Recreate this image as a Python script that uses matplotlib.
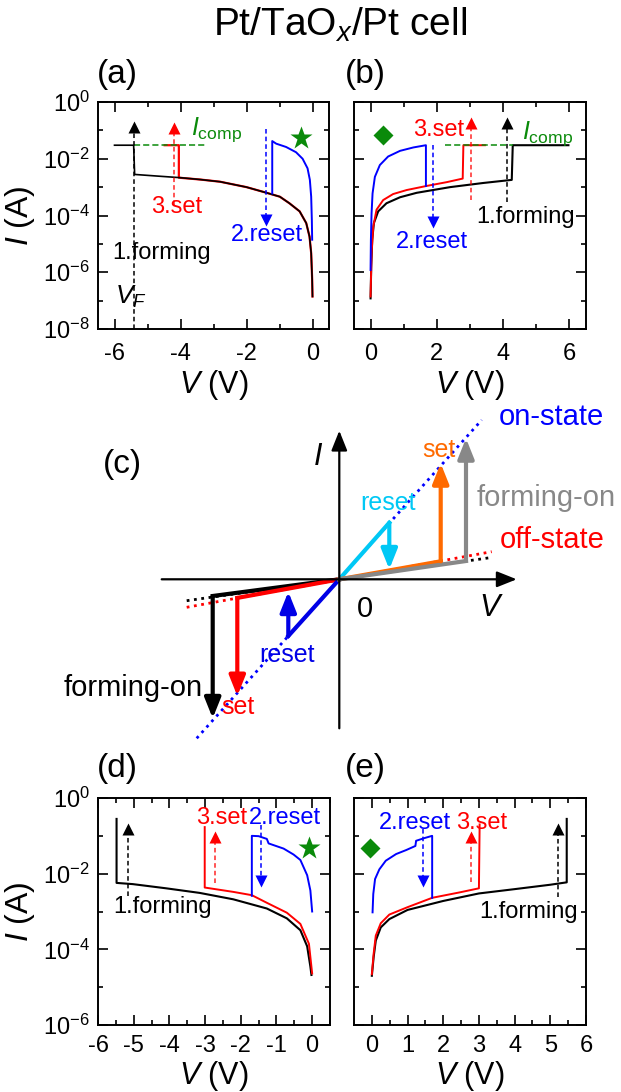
import numpy as np
import matplotlib
matplotlib.use('Agg')
import matplotlib.pyplot as plt

plt.rcParams['font.family'] = ['Liberation Sans', 'DejaVu Sans']
plt.rcParams['mathtext.fontset'] = 'custom'
plt.rcParams['mathtext.rm'] = 'Liberation Sans'
plt.rcParams['mathtext.it'] = 'Liberation Sans:italic'
plt.rcParams['mathtext.sf'] = 'Liberation Sans'
plt.rcParams['axes.unicode_minus'] = False

W, H = 621, 1092
GREEN = '#0a8a0a'

# ---- (a) negative forming / reset / set, log scale ----
a_form_v = [0.0, -0.01, -0.04, -0.09, -0.19, -0.39, -0.70, -0.99, -1.39, -2.0, -2.8, -3.4, -4.0, -4.7, -5.39, -5.42, -6.0]
a_form_i = [1.4e-7, 5.5e-7, 4.7e-6, 1.8e-5, 5.4e-5, 1.4e-4, 2.7e-4, 4.6e-4, 6.3e-4, 1.0e-3, 1.55e-3, 1.85e-3, 2.15e-3, 2.45e-3, 2.8e-3, 3e-2, 3e-2]
a_set_v = [0.0, -0.01, -0.04, -0.09, -0.19, -0.39, -0.70, -0.99, -1.39, -2.0, -2.8, -3.4, -4.05, -4.05, -4.48]
a_set_i = [1.4e-7, 5.5e-7, 4.7e-6, 1.8e-5, 5.4e-5, 1.4e-4, 2.7e-4, 4.6e-4, 6.3e-4, 1.0e-3, 1.55e-3, 1.85e-3, 2.15e-3, 3e-2, 3e-2]
a_reset_v = [-0.01, -0.02, -0.04, -0.08, -0.15, -0.3, -0.5, -0.8, -1.1, -1.22, -1.22]
a_reset_i = [1.4e-5, 7e-5, 4.6e-4, 1.8e-3, 4.6e-3, 1.0e-2, 1.7e-2, 2.6e-2, 3.4e-2, 4.2e-2, 6e-4]
a_comp_v = [-5.42, -3.22]
a_comp_i = 3e-2
# dashed arrows: (V, I start, I end, colour)
a_arrows = [(-5.42, 1e-8, 0.13, 'black'), (-4.2, 2.3e-4, 0.123, 'red'), (-1.4, 0.115, 7e-5, 'blue')]

# ---- (b) positive ----
b_form_v = [0.0, 0.02, 0.05, 0.1, 0.23, 0.48, 0.89, 1.39, 2.4, 3.4, 4.26, 4.29, 5.97]
b_form_i = [1.2e-7, 1.6e-6, 1.4e-5, 5.4e-5, 1.4e-4, 2.7e-4, 4.4e-4, 6.3e-4, 1.0e-3, 1.4e-3, 1.8e-3, 3e-2, 3e-2]
b_set_v = [0.0, 0.03, 0.08, 0.18, 0.38, 0.68, 1.09, 1.69, 2.3, 2.78, 2.8, 3.45]
b_set_i = [1.4e-7, 4.7e-6, 4e-5, 1.6e-4, 3.5e-4, 5.7e-4, 7.9e-4, 1.1e-3, 1.5e-3, 2e-3, 3e-2, 3e-2]
b_reset_v = [0.0, 0.01, 0.03, 0.06, 0.13, 0.28, 0.53, 0.89, 1.29, 1.67, 1.67]
b_reset_i = [1.2e-6, 1.4e-5, 1.2e-4, 6e-4, 2.3e-3, 6e-3, 1.2e-2, 1.9e-2, 2.5e-2, 3e-2, 1.1e-3]
b_comp_v = [2.25, 4.31]
b_comp_i = 3e-2
b_arrows = [(4.13, 3.1e-4, 0.175, 'black'), (3.02, 3.5e-4, 0.175, 'red'), (1.88, 3e-2, 6e-5, 'blue')]

# ---- (d) negative, second cell ----
d_form_v = [-5.48, -5.48, -5.03, -4.09, -3.15, -2.21, -1.27, -0.71, -0.33, -0.14, -0.05, -0.02]
d_form_i = [2.8e-1, 5.7e-3, 5.3e-3, 4.1e-3, 3.1e-3, 2.1e-3, 1.2e-3, 6.6e-4, 3.2e-4, 1.2e-4, 3.5e-5, 2.1e-5]
d_set_v = [-3.01, -3.01, -2.21, -1.69, -1.27, -0.71, -0.33, -0.09, 0.0]
d_set_i = [1.7e-1, 4.3e-3, 3.3e-3, 2.7e-3, 1.7e-3, 9.3e-4, 4.7e-4, 1.4e-4, 2.3e-5]
d_reset_v = [-1.69, -1.69, -1.5, -1.27, -1.22, -0.8, -0.52, -0.33, -0.14, -0.05, 0.0]
d_reset_i = [2.6e-3, 1.0e-1, 9.8e-2, 8.3e-2, 6.3e-2, 4.6e-2, 3.2e-2, 2.3e-2, 9.1e-3, 3.6e-3, 1e-3]
d_arrows = [(-5.17, 2.5e-3, 0.15, 'black'), (-2.73, 5.5e-3, 0.095, 'red'), (-1.43, 0.19, 6.5e-3, 'blue')]

# ---- (e) positive, second cell ----
e_form_v = [0.0, 0.05, 0.11, 0.25, 0.49, 1.0, 2.0, 3.0, 4.0, 5.0, 5.46, 5.46]
e_form_i = [2e-5, 6.2e-5, 1.7e-4, 3.8e-4, 6.3e-4, 1.1e-3, 1.9e-3, 3e-3, 3.9e-3, 5.1e-3, 5.9e-3, 2.8e-1]
e_set_v = [0.0, 0.05, 0.11, 0.25, 0.49, 1.0, 1.69, 2.46, 3.0, 3.02]
e_set_i = [2.2e-5, 7.6e-5, 2.3e-4, 4.9e-4, 8.3e-4, 1.3e-3, 2.3e-3, 3.2e-3, 4.1e-3, 2e-1]
e_reset_v = [0.02, 0.04, 0.09, 0.21, 0.39, 0.68, 0.96, 1.22, 1.24, 1.47, 1.69, 1.69]
e_reset_i = [9.5e-4, 2.9e-3, 7.2e-3, 1.3e-2, 2.2e-2, 3.3e-2, 4.2e-2, 5.4e-2, 7.4e-2, 8.7e-2, 1e-1, 2.3e-3]
e_arrows = [(5.21, 2.4e-3, 0.15, 'black'), (2.79, 5.9e-3, 0.095, 'red'), (1.43, 0.15, 6.5e-3, 'blue')]

# ---- (c) schematic, coordinates relative to the origin ----
on_line = [(-142.6, -159.0), (142.4, 159.3)]
off_line = [(-152.6, -28.0), (152.4, 27.6)]
off_form_line = [(-152.6, -21.4), (150.7, 21.6)]
# (corner x, corner y, arrow tip y, colour)
c_paths = [(-126.6, -16.7, -139.0, 'black'),
           (-102.0, -18.6, -116.7, '#ff0000'),
           (-51.0, -56.7, -12.4, '#0000e6'),
           (50.0, 56.6, 10.0, '#00c8f5'),
           (101.4, 18.0, 116.0, '#ff6a00'),
           (126.7, 18.3, 141.0, '#888888')]


fig = plt.figure(figsize=(W / 100, H / 100), dpi=100)


def px_axes(l, t, r, b):
    return fig.add_axes([l / W, 1 - b / H, (r - l) / W, (b - t) / H])


def style_log(ax, xlim, xmaj, xmin, ylo, ylabels, xpad):
    ax.set_yscale('log')
    ax.set_xlim(xlim)
    ax.set_ylim(10.0 ** ylo, 1.0)
    ax.set_xticks(xmaj)
    ax.set_xticks(xmin, minor=True)
    ax.set_xticklabels(['%g' % t for t in xmaj])
    dec = list(range(ylo, 1))
    ax.set_yticks([10.0 ** d for d in dec if d % 2 == 0])
    ax.set_yticks([10.0 ** d for d in dec if d % 2 != 0], minor=True)
    ax.set_yticklabels([], minor=True)
    if ylabels:
        ax.set_yticklabels(['$10^{%d}$' % d for d in dec if d % 2 == 0])
        ax.set_ylabel('$I$ (A)', fontsize=23)
        ax.yaxis.set_label_coords(-0.264, 0.5)
    else:
        ax.set_yticklabels([])
    ax.set_xlabel('$V$ (V)', fontsize=22)
    ax.tick_params(which='both', direction='in', top=True, right=True, labelsize=17, width=1.2)
    ax.tick_params(which='major', length=7)
    ax.tick_params(which='minor', length=3.5)
    ax.tick_params(axis='x', pad=xpad)
    ax.tick_params(axis='y', pad=6)
    for s in ax.spines.values():
        s.set_linewidth(1.4)


def dashed_arrow(ax, v, i0, i1, color):
    ax.plot([v, v], [i0, i1], ls=(0, (3, 2)), lw=1.1, color=color, alpha=0.85 if color == 'red' else 1)
    ax.plot(v, i1, marker='^' if i1 > i0 else 'v', ms=9, color=color, mec='none')


fig.text(340 / W, 1 - 25 / H, 'Pt/TaO$_x$/Pt cell', fontsize=28, ha='center', va='center')

# (a)
ax = px_axes(98, 102, 329, 329)
ax.plot(a_set_v, a_set_i, color='red', lw=1.6)
ax.plot(a_form_v, a_form_i, color='black', lw=1.2)
ax.plot(a_reset_v, a_reset_i, color='blue', lw=1.4)
ax.plot(a_comp_v, [a_comp_i] * 2, ls=(0, (4, 2)), color=GREEN, lw=1.1)
for v, i0, i1, c in a_arrows:
    dashed_arrow(ax, v, i0, i1, c)
ax.plot(-0.34, 5.6e-2, marker='*', ms=17, color=GREEN, mec='none')
ax.text(-3.68, 1.07e-1, '$I_{\\rm comp}$', color=GREEN, fontsize=18, va='center')
ax.text(-4.13, 2.0e-4, '3.set', color='red', fontsize=17, ha='center', va='center')
ax.text(-1.39, 2.1e-5, '2.reset', color='blue', fontsize=17, ha='center', va='center')
ax.text(-4.57, 4.7e-6, '1.forming', color='black', fontsize=17, ha='center', va='center')
ax.text(-5.5, 1.4e-7, '$V_F$', color='black', fontsize=19, ha='center', va='center')
style_log(ax, (-6.5, 0.5), [-6, -4, -2, 0], [-5, -3, -1], -8, True, 10)
ax.xaxis.set_label_coords(0.5, -0.172)
fig.text(117 / W, 1 - 75 / H, '(a)', fontsize=24, ha='center', va='center')

# (b)
ax = px_axes(354, 102, 586, 329)
ax.plot(b_form_v, b_form_i, color='black', lw=1.5)
ax.plot(b_set_v, b_set_i, color='red', lw=1.4)
ax.plot(b_reset_v, b_reset_i, color='blue', lw=1.4)
ax.plot(b_comp_v, [b_comp_i] * 2, ls=(0, (4, 2)), color=GREEN, lw=1.1)
for v, i0, i1, c in b_arrows:
    dashed_arrow(ax, v, i0, i1, c)
ax.plot(0.38, 6.7e-2, marker='D', ms=10, color=GREEN, mec='none')
ax.text(4.56, 7.8e-2, '$I_{\\rm comp}$', color=GREEN, fontsize=18, va='center')
ax.text(2.04, 1.0e-1, '3.set', color='red', fontsize=17, ha='center', va='center')
ax.text(1.84, 1.2e-5, '2.reset', color='blue', fontsize=17, ha='center', va='center')
ax.text(4.68, 9.1e-5, '1.forming', color='black', fontsize=17, ha='center', va='center')
style_log(ax, (-0.5, 6.5), [0, 2, 4, 6], [1, 3, 5], -8, False, 10)
ax.xaxis.set_label_coords(0.5, -0.172)
fig.text(365 / W, 1 - 75 / H, '(b)', fontsize=24, ha='center', va='center')

# (c) schematic
ox, oy = 339.3, 579.3
axc = fig.add_axes([0, 1 - 745 / H, 1, 335 / H])
axc.set_xlim(-ox, W - ox)
axc.set_ylim(oy - 745, oy - 410)
axc.axis('off')
head = dict(arrowstyle='-|>,head_length=0.55,head_width=0.22', mutation_scale=22, shrinkA=0, shrinkB=0)
axc.annotate('', xy=(177.4, 0), xytext=(-177.6, 0), arrowprops=dict(color='black', lw=1.6, **head))
axc.annotate('', xy=(0, 148.6), xytext=(0, -149.0), arrowprops=dict(color='black', lw=1.6, **head))
for (x0, y0), (x1, y1) in [off_form_line]:
    axc.plot([x0, x1], [y0, y1], ls=':', lw=2, color='black')
for (x0, y0), (x1, y1) in [off_line]:
    axc.plot([x0, x1], [y0, y1], ls=':', lw=2, color='red')
for (x0, y0), (x1, y1) in [on_line]:
    axc.plot([x0, x1], [y0, y1], ls=':', lw=2, color='blue')
for cx, cy, ty, col in c_paths:
    axc.plot([0, cx], [0, cy], color=col, lw=3, solid_capstyle='projecting')
    axc.annotate('', xy=(cx, ty), xytext=(cx, cy), arrowprops=dict(color=col, lw=3, **head))
axc.text(-21, 122.6, '$I$', fontsize=22, ha='center', va='center')
axc.text(152.4, -29, '$V$', fontsize=22, ha='center', va='center')
axc.text(25.7, -30, '0', fontsize=21, ha='center', va='center')
axc.text(159, 162.6, 'on-state', color='blue', fontsize=21, ha='left', va='center')
axc.text(137.3, 81.3, 'forming-on', color='#888888', fontsize=21, ha='left', va='center')
axc.text(160.7, 39.3, 'off-state', color='red', fontsize=21, ha='left', va='center')
axc.text(99.7, 129.3, 'set', color='#ff6a00', fontsize=18, ha='center', va='center')
axc.text(48.2, 76, 'reset', color='#00c8f5', fontsize=18, ha='center', va='center')
axc.text(-52.6, -75.7, 'reset', color='#0000e6', fontsize=18, ha='center', va='center')
axc.text(-101, -127.4, 'set', color='red', fontsize=18, ha='center', va='center')
axc.text(-136.3, -108.7, 'forming-on', color='black', fontsize=21, ha='right', va='center')
fig.text(122 / W, 1 - 465 / H, '(c)', fontsize=24, ha='center', va='center')

# (d)
ax = px_axes(98, 798, 330, 1025)
ax.plot(d_form_v, d_form_i, color='black', lw=1.5)
ax.plot(d_set_v, d_set_i, color='red', lw=1.4)
ax.plot(d_reset_v, d_reset_i, color='blue', lw=1.4)
for v, i0, i1, c in d_arrows:
    dashed_arrow(ax, v, i0, i1, c)
ax.plot(-0.09, 4.9e-2, marker='*', ms=17, color=GREEN, mec='none')
ax.text(-2.54, 3.0e-1, '3.set', color='red', fontsize=17, ha='center', va='center')
ax.text(-0.76, 3.0e-1, '2.reset', color='blue', fontsize=17, ha='center', va='center')
ax.text(-4.19, 1.3e-3, '1.forming', color='black', fontsize=17, ha='center', va='center')
style_log(ax, (-6, 0.5), [-6, -5, -4, -3, -2, -1, 0], [-5.5, -4.5, -3.5, -2.5, -1.5, -0.5, 0.5], -6, True, 7)
ax.xaxis.set_label_coords(0.5, -0.15)
fig.text(117 / W, 1 - 769 / H, '(d)', fontsize=24, ha='center', va='center')

# (e)
ax = px_axes(354, 798, 586, 1025)
ax.plot(e_form_v, e_form_i, color='black', lw=1.5)
ax.plot(e_set_v, e_set_i, color='red', lw=1.4)
ax.plot(e_reset_v, e_reset_i, color='blue', lw=1.4)
for v, i0, i1, c in e_arrows:
    dashed_arrow(ax, v, i0, i1, c)
ax.plot(-0.06, 4.9e-2, marker='D', ms=10, color=GREEN, mec='none')
ax.text(1.21, 2.2e-1, '2.reset', color='blue', fontsize=17, ha='center', va='center')
ax.text(3.07, 2.2e-1, '3.set', color='red', fontsize=17, ha='center', va='center')
ax.text(4.38, 9.5e-4, '1.forming', color='black', fontsize=17, ha='center', va='center')
style_log(ax, (-0.5, 6), [0, 1, 2, 3, 4, 5, 6], [0.5, 1.5, 2.5, 3.5, 4.5, 5.5], -6, False, 7)
ax.xaxis.set_label_coords(0.5, -0.15)
fig.text(365 / W, 1 - 769 / H, '(e)', fontsize=24, ha='center', va='center')

fig.savefig('out.png', dpi=100)
